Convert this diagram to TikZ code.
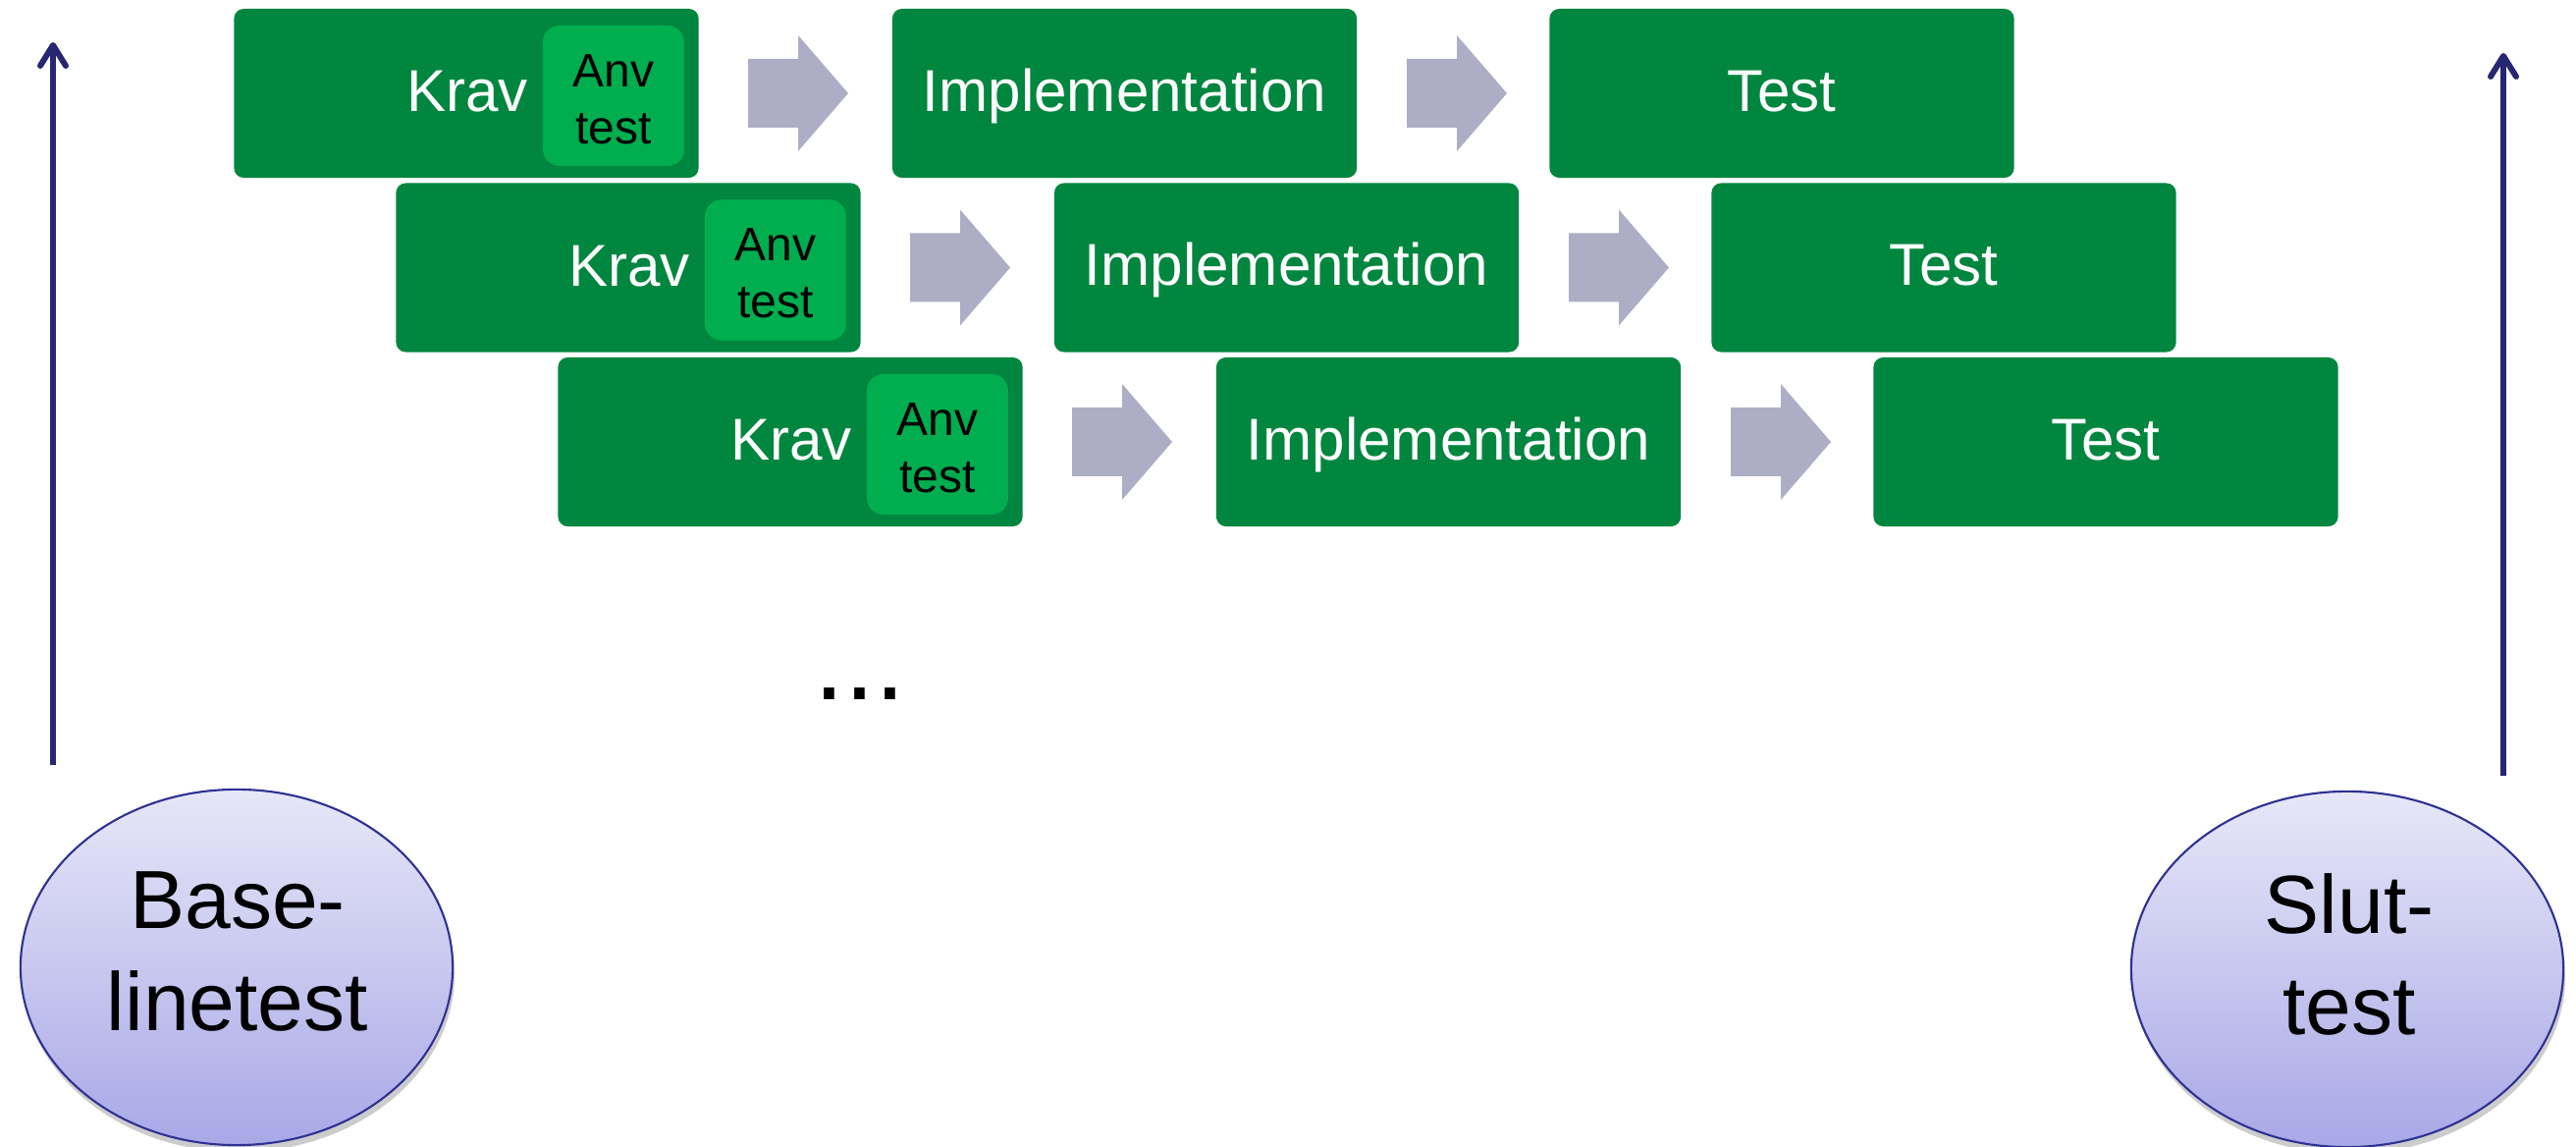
\documentclass[tikz,border=0pt]{standalone}
\usepackage{fontspec}
\setmainfont{Liberation Sans}
\usetikzlibrary{arrows.meta,shapes.geometric,shadows,calc}
\definecolor{dkgreen}{RGB}{0,134,62}
\definecolor{ltgreen}{RGB}{0,173,79}
\definecolor{agray}{RGB}{173,174,197}
\definecolor{navyline}{RGB}{38,38,115}
\definecolor{ebord}{RGB}{46,49,146}
\definecolor{etop}{RGB}{231,231,248}
\definecolor{ebot}{RGB}{168,168,231}
\begin{document}
\begin{tikzpicture}[x=0.01cm,y=-0.01cm,
  bigbox/.style={fill=dkgreen, rounded corners=0.1cm, minimum width=4.73cm, minimum height=1.72cm, inner sep=0pt, draw=none},
  anvbox/.style={fill=ltgreen, rounded corners=0.17cm, minimum width=1.44cm, minimum height=1.43cm, inner sep=0pt},
  wtext/.style={text=white, font=\fontsize{17.1}{20}\selectfont, inner sep=0pt, anchor=base},
  anvtext/.style={text=black, font=\fontsize{13.65}{16.5}\selectfont, align=center, inner sep=0pt},
  barrow/.pic={\fill[agray] (0,-35) -- (51,-35) -- (51,-59) -- (102,0) -- (51,59) -- (51,35) -- (0,35) -- cycle;},
  navyarrow/.style={draw=navyline, line width=1.7pt, -{Straight Barb[length=2.1mm, width=2.6mm, line cap=round, line join=round]}},
  bubble/.style={ellipse, draw=ebord, line width=0.6pt, top color=etop, bottom color=ebot, minimum width=4.4cm, minimum height=3.62cm, inner sep=0pt, drop shadow={shadow xshift=0.2mm, shadow yshift=-0.7mm, opacity=0.2, fill=black}},
  btext/.style={font=\fontsize{23.9}{29.3}\selectfont, align=center, inner sep=0pt, text=black}
]
\useasboundingbox (0,0) rectangle (2624,1168);

\foreach \r in {1,2,3}{
  \pgfmathsetmacro{\dx}{165*(\r-1)}
  \pgfmathsetmacro{\cy}{95+177.5*(\r-1)}
  \node[bigbox] (k\r) at (475+\dx,\cy) {};
  \node[anvbox] (a\r) at (625+\dx,\cy+2.5) {};
  \node[wtext] (kt\r) at (476+\dx,\cy+19) {Krav};
  \node[anvtext] (at\r) at (625+\dx,\cy+6) {Anv\\test};
  \pic at (762+\dx,\cy) {barrow};
  \node[bigbox] (i\r) at (1145.5+\dx,\cy) {};
  \node[wtext] (it\r) at (1145.5+\dx,\cy+18.5) {Implementation};
  \pic at (1433+\dx,\cy) {barrow};
  \node[bigbox] (t\r) at (1815+\dx,\cy) {};
  \node[wtext] (tt\r) at (1815+\dx,\cy+18.5) {Test};
}

\node[font=\fontsize{31.6}{36}\selectfont, inner sep=0pt, anchor=base] (dots) at (876,713) {...};

\node[bubble] (e1) at (241,985) {};
\node[btext] (et1) at (242,969) {Base-\\linetest};
\node[bubble] (e2) at (2391,987) {};
\node[btext] (et2) at (2393,971.5) {Slut-\\test};

\coordinate (la0) at (54,779);
\coordinate (la1) at (54,43);
\coordinate (ra0) at (2550,790);
\coordinate (ra1) at (2550,54);
\draw[navyarrow] (la0) -- (la1);
\draw[navyarrow] (ra0) -- (ra1);
\end{tikzpicture}
\end{document}
